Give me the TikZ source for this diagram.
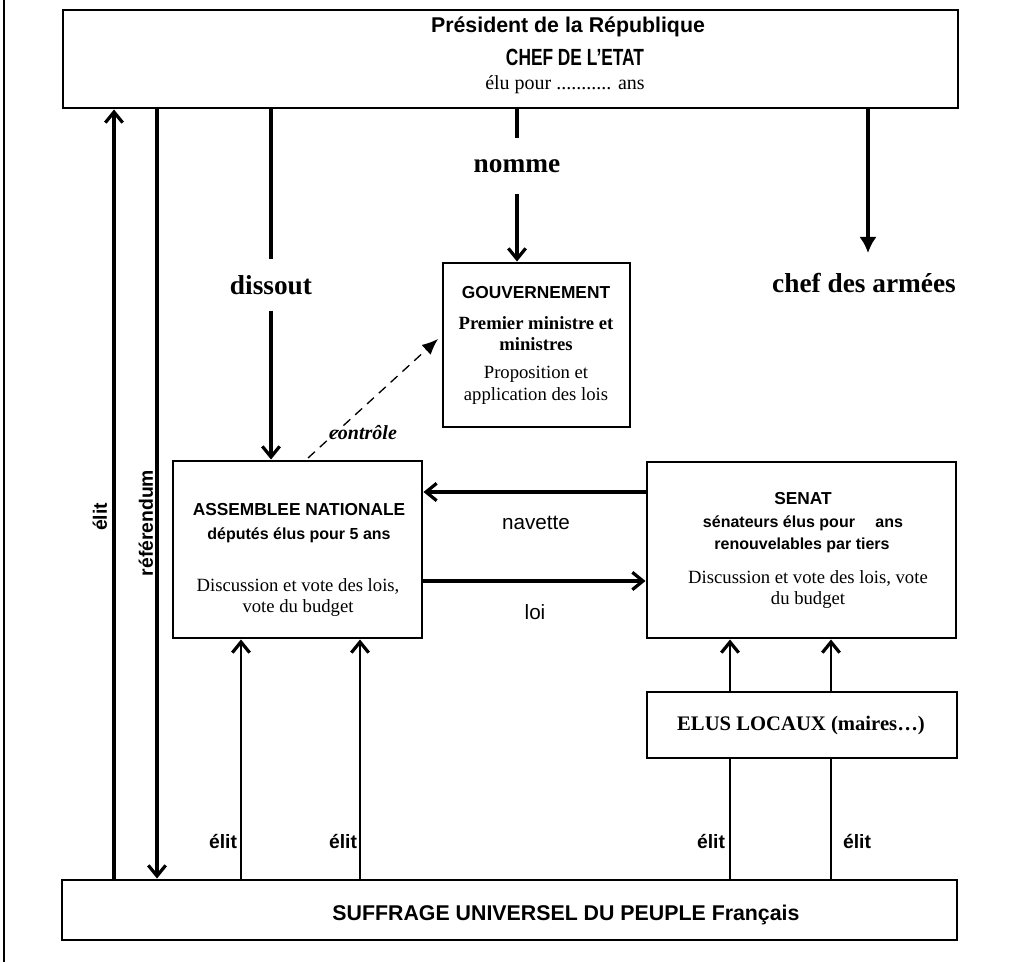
\documentclass[tikz,border=0pt]{standalone}
\usepackage{fontspec}
\setmainfont{Liberation Serif}
\setsansfont{Liberation Sans}
\usetikzlibrary{arrows.meta,fit}
\begin{document}
\begin{tikzpicture}[x=0.75pt,y=-0.75pt,
  box/.style={draw,line width=2.2pt,inner sep=0pt},
  thick line/.style={line width=2.4pt},
  thin line/.style={line width=2pt},
  chev/.style={-{Straight Barb[length=8pt,width=13pt,line width=2.4pt]}},
  tri/.style={-{Latex[length=12pt,width=13pt]}},
  txt/.style={inner sep=0pt,anchor=center},
  sbh/.style={txt,font=\sffamily\bfseries\fontsize{16}{18}\selectfont},
  sbm/.style={txt,font=\sffamily\bfseries\fontsize{13}{15}\selectfont},
  sbs/.style={txt,font=\sffamily\bfseries\fontsize{12}{14}\selectfont},
  srm/.style={txt,font=\rmfamily\fontsize{14}{16}\selectfont},
  srb/.style={txt,font=\rmfamily\bfseries\fontsize{14}{16}\selectfont},
  big/.style={txt,font=\rmfamily\bfseries\fontsize{20.5}{23}\selectfont},
  lab/.style={txt,font=\sffamily\fontsize{15.5}{18}\selectfont},
  elab/.style={txt,font=\sffamily\bfseries\fontsize{14.5}{17}\selectfont}
]
\useasboundingbox (0,0) rectangle (1024,962);
\draw[line width=1.6pt] (4,0) -- (4,962);

% boxes
\node[box,fit={(63,10) (958,108)}] (pres) {};
\node[box,fit={(443,263) (630,427)}] (gouv) {};
\node[box,fit={(173,461) (422,638)}] (an) {};
\node[box,fit={(647,462) (956,638)}] (senat) {};
\node[box,fit={(647,692) (957,758)}] (elus) {};
\node[box,fit={(62,880) (957,940)}] (suff) {};

% texts in boxes
\node[sbh] (p1) at (568,27) {Président de la République};
\node[sbh,font=\sffamily\bfseries\fontsize{13}{15}\selectfont] (p2) at (575,57) {\scalebox{1}[1.35]{CHEF DE L'ETAT}};
\node[srm,font=\rmfamily\fontsize{15}{17}\selectfont] (p3) at (565,85) {élu pour ........... ans};

\node[sbm] (g1) at (536,293) {GOUVERNEMENT};
\node[srb] (g2) at (536,323) {Premier ministre et};
\node[srb] (g3) at (536,344) {ministres};
\node[srm] (g4) at (536,374) {Proposition et};
\node[srm] (g5) at (536,396) {application des lois};

\node[sbm] (a1) at (299,510) {ASSEMBLEE NATIONALE};
\node[sbs] (a2) at (299,535) {députés élus pour 5 ans};
\node[srm] (a3) at (298,586) {Discussion et vote des lois,};
\node[srm] (a4) at (298,608) {vote du budget};

\node[sbm] (s1) at (803,499) {SENAT};
\node[sbs] (s2) at (803,523) {sénateurs élus pour\hspace{12pt} ans};
\node[sbs] (s3) at (802,545) {renouvelables par tiers};
\node[srm] (s4) at (808,578) {Discussion et vote des lois, vote};
\node[srm] (s5) at (808,600) {du budget};

\node[srb,font=\rmfamily\bfseries\fontsize{15.5}{18}\selectfont] (e1) at (801,726) {ELUS LOCAUX (maires…)};
\node[sbh] (u1) at (566,915) {SUFFRAGE UNIVERSEL DU PEUPLE Français};

% x positions
\coordinate (xE) at (114,0);
\coordinate (xR) at (157,0);
\coordinate (xD) at (271,0);
\coordinate (xN) at (517,0);
\coordinate (xC) at (868,0);
\coordinate (xA1) at (241,0);
\coordinate (xA2) at (360,0);
\coordinate (xS1) at (730,0);
\coordinate (xS2) at (831,0);
\coordinate (yNav) at (0,492);
\coordinate (yLoi) at (0,581);

% labels
\node[big,minimum height=38pt] (dis) at (271,285) {dissout};
\node[big,minimum height=41pt] (nom) at (517,166) {nomme};
\node[big] (chef) at (864,283) {chef des armées};
\coordinate (chefTip) at (868,253);
\node[txt,font=\rmfamily\bfseries\itshape\fontsize{15}{17}\selectfont] (ctl) at (363,433) {contrôle};
\node[lab] (nav) at (536,523) {navette};
\node[lab] (loi) at (535,612) {loi};
\node[elab,rotate=90] (le) at (100,517) {élit};
\node[elab,rotate=90] (lr) at (146,523) {référendum};
\node[elab] (l1) at (223,841) {élit};
\node[elab] (l2) at (343,841) {élit};
\node[elab] (l3) at (711,841) {élit};
\node[elab] (l4) at (857,841) {élit};

% connectors
\draw[thick line,chev] (suff.north -| xE) -- (pres.south -| xE);
\draw[thick line,chev] (pres.south -| xR) -- (suff.north -| xR);
\draw[thick line] (pres.south -| xD) -- (dis.north);
\draw[thick line,chev] (dis.south) -- (an.north -| xD);
\draw[thick line] (pres.south -| xN) -- (nom.north);
\draw[thick line,chev] (nom.south) -- (gouv.north -| xN);
\draw[thick line,tri] (pres.south -| xC) -- (chefTip);
\coordinate (c0) at (308,458);
\coordinate (c1) at (438,339);
\draw[line width=1pt,dash pattern=on 7pt off 5pt,-{Latex[length=12pt,width=10pt]}] (c0) -- (c1);
\draw[thick line,chev] (senat.west |- yNav) -- (an.east |- yNav);
\draw[thick line,chev] (an.east |- yLoi) -- (senat.west |- yLoi);
\draw[thin line,chev] (suff.north -| xA1) -- (an.south -| xA1);
\draw[thin line,chev] (suff.north -| xA2) -- (an.south -| xA2);
\draw[thin line] (suff.north -| xS1) -- (elus.south -| xS1);
\draw[thin line] (suff.north -| xS2) -- (elus.south -| xS2);
\draw[thin line,chev] (elus.north -| xS1) -- (senat.south -| xS1);
\draw[thin line,chev] (elus.north -| xS2) -- (senat.south -| xS2);
\end{tikzpicture}
\end{document}
